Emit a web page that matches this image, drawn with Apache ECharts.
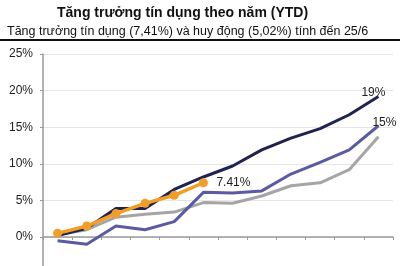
<!DOCTYPE html>
<html>
<head>
<meta charset="utf-8">
<script src="https://cdn.jsdelivr.net/npm/echarts@6/dist/echarts.min.js"></script>
<style>
  html, body { margin: 0; padding: 0; background: #fff; }
  #chart { width: 400px; height: 266px; }
</style>
</head>
<body>
<div id="chart"></div>
<script>
// months T1..T12
var months = ['T1', 'T2', 'T3', 'T4', 'T5', 'T6', 'T7', 'T8', 'T9', 'T10', 'T11', 'T12'];
// prior years (%)
var navyYear = [0.2, 1.2, 3.9, 3.9, 6.5, 8.2, 9.7, 11.9, 13.5, 14.8, 16.7, 19.2];
var purpleYear = [-0.5, -1.0, 1.5, 1.0, 2.1, 6.1, 6.0, 6.3, 8.6, 10.2, 11.9, 15.2];
var grayYear = [0.3, 1.0, 2.7, 3.1, 3.4, 4.7, 4.6, 5.6, 7.0, 7.4, 9.2, 13.7];
// current year, up to 25/6
var currentYear = [0.5, 1.5, 3.2, 4.6, 5.7, 7.41];
var yTicks = [0, 5, 10, 15, 20, 25];

var font = '"Liberation Sans", Arial, sans-serif';

var chart = echarts.init(document.getElementById('chart'));

var option = {
    animation: false,
    textStyle: { fontFamily: font },
    title: [{
        text: 'Tăng trưởng tín dụng theo năm (YTD)',
        left: 52,
        top: 1,
        textStyle: { fontSize: 14, fontWeight: 'bold', color: '#111', fontFamily: font }
    }, {
        text: 'Tăng trưởng tín dụng (7,41%) và huy động (5,02%) tính đến 25/6',
        left: 2,
        top: 20,
        textStyle: { fontSize: 12.5, fontWeight: 'normal', color: '#111', fontFamily: font }
    }],
    graphic: [{
        type: 'rect',
        shape: { x: 0, y: 39, width: 400, height: 2 },
        style: { fill: '#111' }
    }],
    // the axis runs on below the picture, down to -5%
    grid: { left: 43, right: 7, top: 54, height: 219.6, outerBoundsMode: 'none', containLabel: false },
    xAxis: {
        type: 'category',
        data: months,
        axisLine: { onZero: true, lineStyle: { color: '#9a9a9a', width: 1.5 } },
        axisTick: { show: true, interval: 0, length: 3, lineStyle: { color: '#9a9a9a' } },
        axisLabel: { show: false },
        splitLine: { show: false }
    },
    yAxis: {
        type: 'value',
        min: -5,
        max: 25,
        interval: 5,
        axisLine: { show: true, lineStyle: { color: '#9a9a9a', width: 1.5 } },
        axisTick: { show: true, length: 3, lineStyle: { color: '#9a9a9a' } },
        axisLabel: {
            color: '#222',
            fontSize: 12,
            margin: 10,
            formatter: function (v) { return yTicks.indexOf(v) >= 0 ? v + '%' : ''; }
        },
        splitLine: { show: true, lineStyle: { color: '#e6e6e6', width: 1 } }
    },
    series: [{
        name: 'gray',
        type: 'line',
        data: grayYear,
        symbol: 'none',
        lineStyle: { color: '#a5a5a5', width: 3 }
    }, {
        name: 'purple',
        type: 'line',
        data: purpleYear,
        symbol: 'none',
        lineStyle: { color: '#5a5ba3', width: 3 },
        endLabel: {
            show: true,
            formatter: '15%',
            color: '#222',
            fontSize: 12,
            offset: [-14, -3]
        }
    }, {
        name: 'navy',
        type: 'line',
        data: navyYear,
        symbol: 'none',
        lineStyle: { color: '#1e2350', width: 3 },
        endLabel: {
            show: true,
            formatter: '19%',
            color: '#222',
            fontSize: 12,
            offset: [-25, -4]
        }
    }, {
        name: 'current',
        type: 'line',
        data: currentYear,
        symbol: 'circle',
        symbolSize: 9,
        itemStyle: { color: '#f29d25' },
        lineStyle: { color: '#f29d25', width: 3.5 },
        endLabel: {
            show: true,
            formatter: '7.41%',
            color: '#222',
            fontSize: 12,
            distance: 13
        }
    }]
};

chart.setOption(option);
</script>
</body>
</html>
